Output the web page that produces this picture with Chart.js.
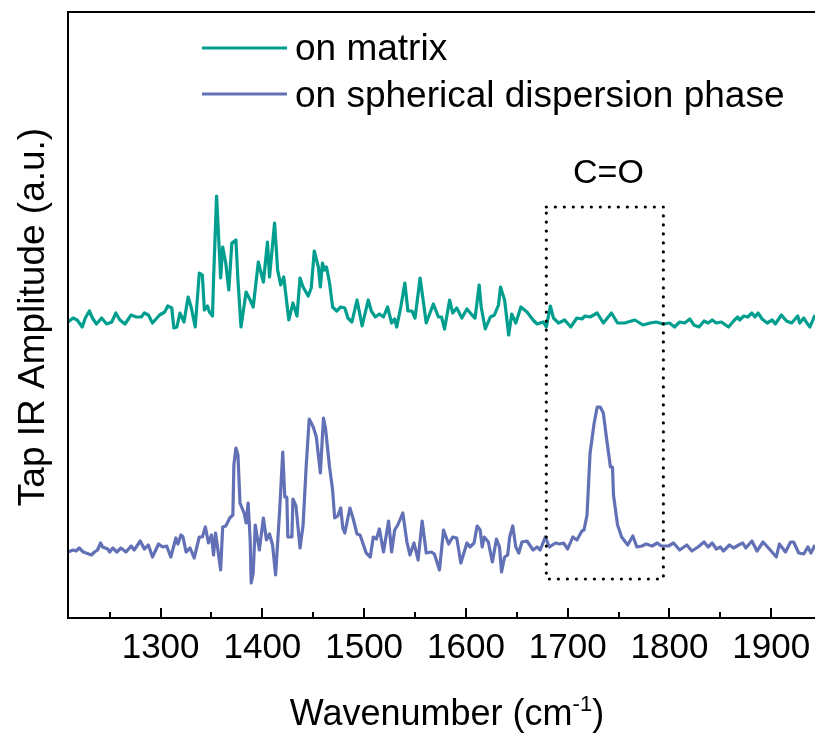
<!DOCTYPE html>
<html>
<head>
<meta charset="utf-8">
<style>
html,body{margin:0;padding:0;background:#fff;}
#wrap{width:815px;height:734px;position:relative;overflow:hidden;}
canvas{display:block;}
</style>
<script src="https://cdn.jsdelivr.net/npm/chart.js@4.4.1/dist/chart.umd.min.js"></script>
</head>
<body>
<div id="wrap"><canvas id="c" width="815" height="734"></canvas></div>
<script>
// ---- data ----
const seriesLabels = ['on matrix', 'on spherical dispersion phase'];

const matrixWavenumber = [
1209,1214,1218,1223,1226,1230,1233,1237,1242,1247,
1252,1256,1260,1265,1271,1276,1281,1284,1288,1292,
1299,1304,1307,1311,1313,1316,1319,1323,1327,1330,
1334,1338,1341,1343,1346,1348,1351,1352,1355,1359,
1361,1364,1367,1370,1374,1376,1379,1384,1388,1391,
1396,1401,1405,1407,1412,1415,1418,1421,1426,1430,
1434,1437,1440,1445,1448,1451,1455,1457,1459,1461,
1463,1466,1469,1473,1477,1481,1484,1488,1493,1498,
1504,1507,1511,1515,1519,1523,1527,1530,1532,1536,
1540,1543,1547,1550,1555,1561,1568,1573,1576,1579,
1584,1587,1591,1596,1601,1606,1609,1613,1615,1619,
1624,1628,1632,1634,1638,1642,1645,1649,1654,1660,
1666,1670,1676,1679,1683,1686,1691,1697,1703,1709,
1714,1717,1722,1729,1735,1743,1749,1756,1766,1774,
1781,1787,1794,1800,1805,1810,1815,1820,1824,1829,
1834,1838,1842,1846,1851,1858,1863,1867,1869,1873,
1877,1881,1884,1887,1891,1896,1901,1904,1910,1915,
1920,1926,1928,1932,1935,1938,1943];

const matrixAmplitude = [
2.96,3.00,2.98,2.91,3.00,3.07,3.00,2.94,3.00,2.94,
2.96,3.05,2.98,2.94,3.03,3.01,3.01,3.05,3.03,2.95,
3.03,3.06,3.12,3.10,2.90,2.91,3.05,2.96,3.21,3.11,
2.91,3.45,3.43,3.08,3.12,3.06,3.02,3.38,4.22,3.40,
3.71,3.55,3.28,3.75,3.78,3.38,2.91,3.26,3.18,3.11,
3.56,3.36,3.76,3.41,3.95,3.48,3.33,3.41,2.98,3.15,
3.02,3.40,3.31,3.22,3.30,3.67,3.51,3.31,3.55,3.48,
3.51,3.35,3.11,3.07,3.11,3.10,3.00,2.96,3.18,2.92,
3.18,3.07,3.01,3.04,3.01,3.11,2.95,2.99,2.91,3.11,
3.35,3.07,3.07,3.00,3.40,2.95,3.14,3.01,3.01,2.89,
3.18,3.05,3.10,3.00,3.09,3.03,3.00,3.33,3.11,2.89,
3.01,3.03,3.13,3.31,3.18,2.83,3.04,2.95,3.11,3.06,
2.98,2.94,2.96,2.91,3.12,3.00,2.95,2.98,2.91,3.00,
2.99,3.02,3.01,3.05,2.95,3.05,2.95,2.95,2.98,2.93,
2.95,2.96,2.94,2.95,2.91,2.96,2.95,2.99,2.93,2.91,
2.97,2.95,2.98,2.95,2.96,2.91,2.97,3.01,2.98,3.02,
3.01,3.05,3.01,3.05,2.99,2.95,2.98,2.94,3.03,2.97,
2.95,3.02,2.95,3.00,2.95,2.91,3.03];

const dispersionWavenumber = [
1209,1214,1217,1220,1224,1232,1235,1238,1241,1243,
1248,1250,1253,1257,1261,1266,1271,1274,1280,1284,
1288,1292,1298,1302,1306,1310,1315,1317,1320,1322,
1325,1329,1333,1338,1341,1344,1347,1350,1352,1354,
1359,1361,1364,1368,1371,1372,1374,1376,1378,1382,
1384,1386,1388,1389,1391,1393,1397,1401,1404,1407,
1410,1413,1417,1420,1422,1424,1425,1429,1430,1433,
1437,1440,1443,1446,1450,1453,1457,1460,1462,1466,
1469,1471,1474,1477,1479,1481,1486,1489,1493,1496,
1502,1506,1509,1512,1515,1519,1524,1527,1530,1533,
1538,1542,1545,1549,1553,1557,1561,1566,1569,1574,
1578,1583,1587,1591,1595,1601,1604,1608,1611,1614,
1616,1618,1622,1626,1630,1633,1635,1638,1641,1643,
1646,1649,1652,1655,1660,1666,1670,1673,1678,1682,
1688,1692,1696,1700,1705,1709,1714,1716,1719,1722,
1726,1729,1732,1735,1738,1742,1744,1745,1749,1753,
1759,1764,1768,1773,1777,1783,1788,1792,1799,1804,
1810,1817,1822,1828,1834,1838,1842,1846,1850,1853,
1859,1863,1868,1872,1875,1881,1886,1892,1899,1905,
1908,1914,1919,1922,1927,1932,1936,1939,1943];

const dispersionAmplitude = [
0.66,0.68,0.67,0.70,0.66,0.63,0.66,0.68,0.75,0.71,
0.69,0.66,0.70,0.66,0.70,0.66,0.72,0.68,0.77,0.69,
0.73,0.61,0.74,0.71,0.72,0.61,0.80,0.74,0.83,0.81,
0.66,0.70,0.60,0.81,0.81,0.91,0.75,0.83,0.63,0.85,
0.48,0.91,0.92,1.00,1.03,1.53,1.70,1.63,1.15,1.05,
0.95,1.15,0.78,0.35,0.45,0.93,0.68,1.00,0.78,0.84,
0.73,0.43,1.08,1.66,1.21,1.21,0.81,0.81,1.19,1.12,
0.70,0.93,1.51,1.99,1.91,1.81,1.45,2.00,1.90,1.51,
1.28,1.00,1.02,1.10,0.90,0.85,1.10,1.00,0.84,0.83,
0.65,0.61,0.81,0.79,0.89,0.66,0.97,0.66,0.88,0.93,
1.05,0.76,0.63,0.75,0.58,0.97,0.65,0.66,0.64,0.48,
0.88,0.74,0.81,0.80,0.55,0.75,0.71,0.75,0.92,0.88,
0.71,0.81,0.76,0.56,0.79,0.71,0.46,0.61,0.63,0.81,
0.92,0.71,0.65,0.76,0.77,0.68,0.71,0.68,0.81,0.71,
0.75,0.74,0.75,0.69,0.81,0.78,0.87,0.88,1.03,1.65,
1.95,2.11,2.11,2.05,1.81,1.51,1.51,1.23,0.93,0.81,
0.73,0.82,0.71,0.72,0.74,0.72,0.75,0.72,0.72,0.75,
0.68,0.73,0.67,0.71,0.76,0.71,0.75,0.69,0.71,0.67,
0.73,0.70,0.73,0.75,0.70,0.77,0.67,0.76,0.68,0.61,
0.74,0.66,0.76,0.76,0.65,0.64,0.71,0.65,0.73];

const xMajorTicks = [1300,1400,1500,1600,1700,1800,1900];
const xMinorTicks = [1250,1350,1450,1550,1650,1750,1850];
const xRange = [1209, 1943];
const yRange = [0, 6.06];
// C=O highlight region in data units
const highlightX = [1679, 1794];
const highlightY = [0.39, 4.11];
const highlightLabel = 'C=O';
const highlightLabelPos = [1740, 4.35];

// ---- styling ----
const COL_MATRIX = 'rgb(0,158,142)';
const COL_DISP = 'rgb(98,112,182)';
const FONT = "'Liberation Sans', Arial, sans-serif";

function pts(xs, ys){
  const n = Math.min(xs.length, ys.length);
  const out = [];
  for (let i=0;i<n;i++) out.push({x:xs[i], y:ys[i]});
  return out;
}

const decor = {
  id:'decor',
  afterDraw(chart){
    const ctx = chart.ctx;
    const xs = chart.scales.x, ys = chart.scales.y;
    const a = chart.chartArea;
    ctx.save();
    ctx.strokeStyle = '#000';
    ctx.lineWidth = 2;
    ctx.lineCap = 'butt';
    // frame (left, top, bottom)
    ctx.beginPath();
    ctx.moveTo(a.right+2, a.top); ctx.lineTo(a.left, a.top);
    ctx.lineTo(a.left, a.bottom); ctx.lineTo(a.right+2, a.bottom);
    ctx.stroke();
    // inward ticks
    ctx.beginPath();
    xMajorTicks.forEach(v=>{ const x=Math.round(xs.getPixelForValue(v)); ctx.moveTo(x, a.bottom); ctx.lineTo(x, a.bottom-10); });
    xMinorTicks.forEach(v=>{ const x=Math.round(xs.getPixelForValue(v)); ctx.moveTo(x, a.bottom); ctx.lineTo(x, a.bottom-6); });
    ctx.stroke();

    // dotted highlight box
    const bx0 = xs.getPixelForValue(highlightX[0]), bx1 = xs.getPixelForValue(highlightX[1]);
    const by0 = ys.getPixelForValue(highlightY[1]), by1 = ys.getPixelForValue(highlightY[0]);
    ctx.lineWidth = 3.2;
    ctx.lineCap = 'round';
    ctx.setLineDash([0, 9]);
    ctx.beginPath();
    ctx.moveTo(bx0, by0); ctx.lineTo(bx1, by0);
    ctx.lineTo(bx1, by1); ctx.lineTo(bx0, by1); ctx.closePath();
    ctx.stroke();
    ctx.setLineDash([]);

    ctx.fillStyle = '#000';
    ctx.font = '34px ' + FONT;
    ctx.textAlign = 'center';
    ctx.textBaseline = 'alphabetic';
    ctx.fillText(highlightLabel, xs.getPixelForValue(highlightLabelPos[0]), ys.getPixelForValue(highlightLabelPos[1]));

    // legend
    const legendItems = [[COL_MATRIX, 48, 60], [COL_DISP, 94, 107]];
    ctx.font = '37px ' + FONT;
    ctx.textAlign = 'left';
    legendItems.forEach((it, i)=>{
      ctx.strokeStyle = it[0];
      ctx.lineWidth = 3;
      ctx.lineCap = 'butt';
      ctx.beginPath(); ctx.moveTo(202, it[1]); ctx.lineTo(287, it[1]); ctx.stroke();
      ctx.fillStyle = '#000';
      ctx.fillText(seriesLabels[i], 295, it[2]);
    });

    // x title with superscript
    const main = 'Wavenumber (cm', sup = '-1', close = ')';
    ctx.font = '36px ' + FONT;
    const w1 = ctx.measureText(main).width, w3 = ctx.measureText(close).width;
    ctx.font = '22px ' + FONT;
    const w2 = ctx.measureText(sup).width;
    const total = w1 + w2 + w3;
    let x = 447 - total/2;
    const base = 725;
    ctx.font = '36px ' + FONT;
    ctx.fillText(main, x, base);
    ctx.font = '22px ' + FONT;
    ctx.fillText(sup, x + w1, base - 14);
    ctx.font = '36px ' + FONT;
    ctx.fillText(close, x + w1 + w2, base);

    // y title
    ctx.save();
    ctx.translate(44, (a.top + a.bottom)/2 + 2);
    ctx.rotate(-Math.PI/2);
    ctx.font = '37px ' + FONT;
    ctx.textAlign = 'center';
    ctx.fillText('Tap IR Amplitude (a.u.)', 0, 0);
    ctx.restore();

    ctx.restore();
  }
};

new Chart(document.getElementById('c'), {
  type:'line',
  data:{
    datasets:[
      {label:seriesLabels[0], data:pts(matrixWavenumber, matrixAmplitude), borderColor:COL_MATRIX, borderWidth:3.2, pointRadius:0, tension:0, fill:false, borderJoinStyle:'round'},
      {label:seriesLabels[1], data:pts(dispersionWavenumber, dispersionAmplitude), borderColor:COL_DISP, borderWidth:3.2, pointRadius:0, tension:0, fill:false, borderJoinStyle:'round'}
    ]
  },
  options:{
    responsive:false,
    animation:false,
    devicePixelRatio:1,
    layout:{padding:{left:68, right:0, top:12, bottom:56}},
    plugins:{legend:{display:false}, tooltip:{enabled:false}},
    scales:{
      x:{
        type:'linear', min:xRange[0], max:xRange[1],
        afterBuildTicks(s){ s.ticks = xMajorTicks.map(v=>({value:v})); },
        afterFit(s){ s.paddingLeft = 0; s.paddingRight = 0; },
        grid:{display:false, drawTicks:false},
        border:{display:false},
        ticks:{color:'#000', padding:9, font:{size:35, family:FONT}, maxRotation:0, autoSkip:false, callback:v=>String(v)}
      },
      y:{
        type:'linear', min:yRange[0], max:yRange[1], display:false
      }
    }
  },
  plugins:[decor]
});
</script>
</body>
</html>
